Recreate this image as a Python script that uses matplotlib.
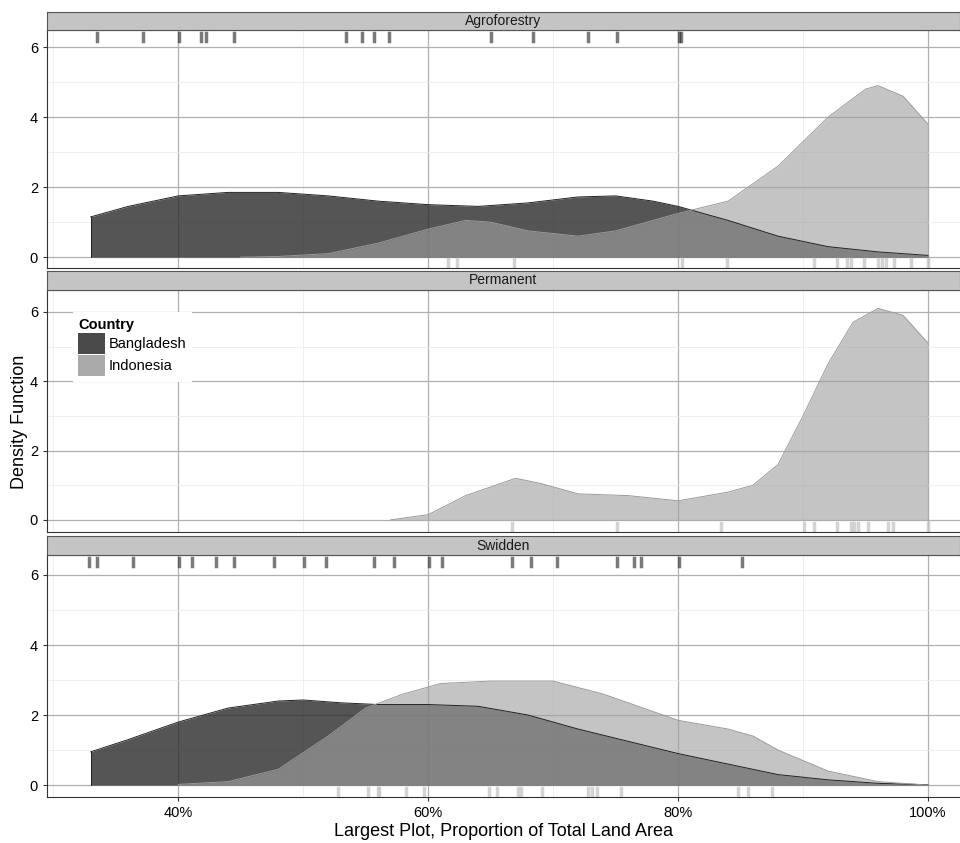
import matplotlib
matplotlib.use("Agg")
import matplotlib.pyplot as plt
import numpy as np
from matplotlib.patches import Patch

plt.rcParams['font.family'] = ['Liberation Sans', 'DejaVu Sans']

panels = ["Agroforestry", "Permanent", "Swidden"]

# density curves (x in %, density)
agro_bd_x = [33, 36, 40, 44, 48, 52, 56, 60, 64, 68, 72, 75, 78, 80, 84, 88, 92, 96, 100]
agro_bd_y = [1.15, 1.45, 1.75, 1.85, 1.85, 1.75, 1.6, 1.5, 1.45, 1.55, 1.72, 1.75, 1.6, 1.45, 1.05, 0.6, 0.3, 0.15, 0.05]
agro_id_x = [45, 48, 52, 56, 60, 63, 65, 68, 72, 75, 80, 84, 88, 92, 95, 96, 98, 100]
agro_id_y = [0.0, 0.02, 0.1, 0.4, 0.8, 1.05, 1.0, 0.75, 0.6, 0.75, 1.25, 1.6, 2.6, 4.0, 4.8, 4.9, 4.6, 3.8]
perm_id_x = [57, 60, 63, 67, 69, 72, 76, 80, 84, 86, 88, 90, 92, 94, 96, 98, 100]
perm_id_y = [0.0, 0.15, 0.7, 1.2, 1.05, 0.75, 0.7, 0.55, 0.8, 1.0, 1.6, 3.0, 4.5, 5.7, 6.1, 5.9, 5.1]
swid_bd_x = [33, 36, 40, 44, 48, 50, 53, 56, 60, 64, 68, 72, 76, 80, 84, 88, 92, 96, 100]
swid_bd_y = [0.95, 1.3, 1.8, 2.2, 2.4, 2.43, 2.35, 2.3, 2.3, 2.25, 2.0, 1.6, 1.25, 0.9, 0.6, 0.3, 0.15, 0.05, 0.01]
swid_id_x = [40, 44, 48, 52, 55, 58, 61, 65, 70, 74, 78, 80, 84, 86, 88, 92, 96, 100]
swid_id_y = [0.02, 0.1, 0.45, 1.4, 2.2, 2.6, 2.9, 2.97, 2.97, 2.6, 2.1, 1.85, 1.6, 1.4, 1.0, 0.4, 0.1, 0.0]

# rug observations (%)
agro_bd_rug = [33.5, 37.2, 40.1, 41.8, 42.2, 44.5, 53.4, 54.7, 55.7, 56.9, 65.0, 68.4, 72.8, 75.1, 80.1, 80.2]
agro_id_rug = [61.6, 62.3, 66.9, 80.3, 83.9, 90.9, 92.7, 93.5, 93.8, 94.9, 96.0, 96.3, 96.6, 97.3, 98.6, 100]
perm_id_rug = [66.7, 75.1, 83.4, 90.1, 90.9, 92.7, 93.8, 94.1, 94.4, 95.2, 96.8, 97.2, 100]
swid_bd_rug = [32.9, 33.5, 36.4, 40.1, 41.1, 43.0, 44.5, 47.7, 50.1, 51.8, 55.7, 57.3, 60.1, 61.1,
               66.7, 68.2, 70.3, 75.1, 76.5, 77.0, 80.1, 85.1]
swid_id_rug = [52.8, 55.2, 56.0, 56.1, 58.2, 59.7, 64.9, 65.5, 67.2, 67.4, 69.1, 72.8, 73.1, 73.5,
               75.4, 84.8, 85.6, 87.5]

data = [
    ((agro_bd_x, agro_bd_y), (agro_id_x, agro_id_y), agro_bd_rug, agro_id_rug),
    (None, (perm_id_x, perm_id_y), [], perm_id_rug),
    ((swid_bd_x, swid_bd_y), (swid_id_x, swid_id_y), swid_bd_rug, swid_id_rug),
]

BD = "#2a2a2a"
ID = "#a0a0a0"
W, H = 960, 843
fig = plt.figure(figsize=(9.6, 8.43), dpi=100)

layout = [(12, 30, 268, (-0.31, 6.49)), (271, 290, 532, (-0.35, 6.63)), (536, 555, 797, (-0.34, 6.57))]
left = 47
for i, (name, (bd, idn, bdr, idr)) in enumerate(zip(panels, data)):
    st, at, ab, yl = layout[i]
    ax = fig.add_axes([left / W, (H - ab) / H, (W - left) / W, (ab - at) / H])
    sax = fig.add_axes([left / W, (H - at) / H, (W - left) / W, (at - st) / H])
    sax.set_facecolor("#c4c4c4")
    sax.set_xticks([]); sax.set_yticks([])
    for s in sax.spines.values():
        s.set_color("#555555"); s.set_linewidth(0.8)
    sax.text(0.5, 0.5, name, ha="center", va="center", fontsize=10, color="#1a1a1a", transform=sax.transAxes)

    ax.set_xlim(29.5, 102.56)
    ax.set_ylim(*yl)
    ax.set_xticks([40, 60, 80, 100])
    ax.set_xticks([30, 50, 70, 90], minor=True)
    ax.set_yticks([0, 2, 4, 6])
    ax.set_yticks([1, 3, 5], minor=True)
    ax.grid(True, which="major", color="#b0b0b0", lw=0.9)
    ax.grid(True, which="minor", color="#ececec", lw=0.6)
    ax.set_axisbelow(True)
    ax.tick_params(which="minor", length=0)
    ax.tick_params(which="major", length=3, labelsize=10.5, color="#333333")
    ax.set_yticklabels(["0", "2", "4", "6"])
    if i == 2:
        ax.set_xticklabels(["40%", "60%", "80%", "100%"])
        ax.set_xlabel("Largest Plot, Proportion of Total Land Area", fontsize=13, labelpad=2)
    else:
        ax.set_xticklabels([])
        ax.tick_params(axis="x", length=0)
    for s in ax.spines.values():
        s.set_color("#333333"); s.set_linewidth(0.8)
    ax.spines["right"].set_visible(False)

    if bd is not None:
        ax.fill_between(bd[0], 0, bd[1], color=BD, alpha=0.8, lw=0)
        ax.plot(bd[0], bd[1], color="#222222", lw=0.7)
        ax.plot([bd[0][0], bd[0][0]], [0, bd[1][0]], color="#222222", lw=0.7)
    ax.fill_between(idn[0], 0, idn[1], color=ID, alpha=0.62, lw=0)
    ax.plot(idn[0], idn[1], color="#9a9a9a", lw=0.7)

    frac = 8 / (ab - at)
    top0 = 1 - 3 / (ab - at)
    for v in bdr:
        ax.axvline(v, ymin=top0 - frac, ymax=top0, color="#222222", alpha=0.6, lw=2.5)
    for v in idr:
        ax.axvline(v, ymin=1.5 / (ab - at), ymax=1.5 / (ab - at) + frac, color="#c8c8c8", alpha=0.8, lw=2.5)

    if i == 1:
        handles = [Patch(facecolor="#4a4a4a", edgecolor="none"), Patch(facecolor="#aaaaaa", edgecolor="none")]
        leg = ax.legend(handles, ["Bangladesh", "Indonesia"], title="Country", loc="upper left",
                        bbox_to_anchor=(0.02, 0.94), frameon=True, fontsize=10.5, title_fontsize=10.5,
                        handlelength=1.8, handleheight=1.8, borderpad=0.4, labelspacing=0.1,
                        handletextpad=0.3, fancybox=False)
        leg.get_frame().set_edgecolor("none")
        leg.get_frame().set_alpha(1)
        leg.get_title().set_fontweight("bold")
        leg._legend_box.align = "left"

fig.text(20 / W, 0.5, "Density Function", rotation=90, ha="center", va="center", fontsize=13)
fig.savefig("out.png", dpi=100)
